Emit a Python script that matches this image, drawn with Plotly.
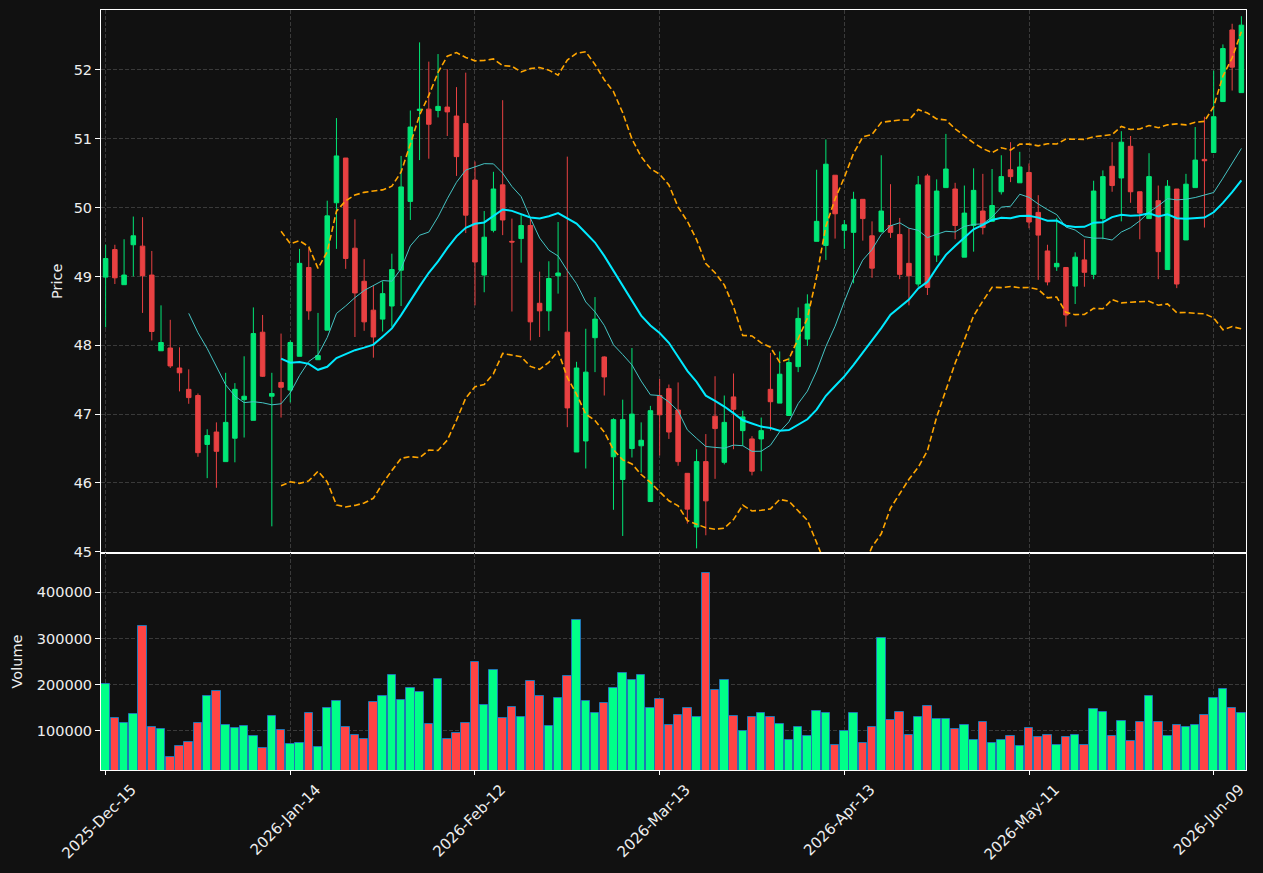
import pandas as pd
import numpy as np
import plotly.graph_objects as go

# ---------------- data ----------------
opens = [48.99, 49.39, 48.88, 49.46, 49.44, 49.02, 47.92, 47.96, 47.67, 47.36,
         47.27, 46.56, 46.74, 46.31, 46.65, 47.21, 46.91, 48.19, 47.26, 47.46,
         47.35, 47.84, 49.13, 47.79, 48.22, 50.07, 50.72, 49.41, 48.93, 48.51,
         48.38, 48.57, 49.09, 50.09, 51.41, 51.43, 51.41, 51.46, 51.33, 51.22,
         50.40, 49.02, 49.67, 50.33, 49.51, 49.55, 49.74, 48.61, 48.50, 49.01,
         48.19, 46.45, 46.61, 48.11, 47.83, 46.38, 46.05, 46.50, 46.54, 45.73,
         47.27, 47.37, 47.06, 46.14, 45.36, 46.31, 46.97, 46.30, 47.25, 46.76,
         46.64, 46.64, 47.36, 47.16, 46.98, 47.69, 48.09, 49.51, 49.45, 50.47,
         49.67, 49.64, 50.12, 49.59, 49.65, 49.74, 49.61, 49.19, 48.89, 50.46,
         49.31, 50.29, 50.27, 49.28, 49.74, 49.95, 49.80, 50.23, 50.55, 50.36,
         50.51, 49.93, 49.37, 49.14, 49.13, 48.86, 49.24, 49.03, 49.84, 50.60,
         50.43, 50.89, 50.23, 49.84, 50.10, 49.10, 50.27, 49.53, 50.29, 50.70,
         50.80, 51.54, 52.58, 51.67]
highs = [49.46, 49.46, 49.54, 49.87, 49.86, 49.37, 48.58, 48.37, 47.97, 47.65,
         47.30, 46.78, 46.88, 47.60, 47.45, 47.84, 48.55, 48.44, 47.60, 48.17,
         48.07, 49.40, 49.41, 48.47, 50.10, 51.30, 50.72, 49.83, 49.25, 48.86,
         48.93, 49.33, 50.75, 51.41, 52.40, 52.12, 52.23, 52.01, 51.75, 51.96,
         50.67, 49.95, 50.52, 51.56, 49.84, 49.89, 49.84, 49.07, 49.22, 49.79,
         50.74, 47.76, 48.24, 48.70, 47.84, 46.94, 47.21, 47.96, 46.88, 47.12,
         47.51, 47.43, 47.46, 46.14, 46.49, 46.71, 47.55, 47.27, 47.59, 47.05,
         46.68, 46.95, 47.89, 47.91, 47.82, 48.55, 48.74, 50.55, 50.99, 50.47,
         49.82, 50.23, 50.12, 49.80, 50.76, 50.34, 49.85, 49.70, 50.46, 50.49,
         50.41, 51.07, 50.36, 50.32, 50.57, 50.49, 50.56, 50.76, 50.95, 50.81,
         50.64, 50.18, 49.46, 49.85, 49.13, 49.35, 49.54, 50.39, 50.54, 50.95,
         51.11, 51.04, 50.23, 50.79, 50.32, 50.40, 50.27, 50.49, 51.17, 51.32,
         51.99, 52.37, 52.67, 52.78]
lows = [48.26, 48.89, 48.88, 49.00, 48.47, 48.07, 47.92, 47.67, 47.33, 47.15,
        46.38, 46.07, 45.93, 46.31, 46.30, 46.66, 46.91, 47.54, 45.37, 46.95,
        47.17, 47.84, 48.37, 47.79, 48.22, 49.40, 49.11, 48.12, 48.21, 47.82,
        48.20, 48.27, 48.57, 49.82, 50.69, 50.71, 51.31, 51.04, 50.46, 49.63,
        48.58, 48.77, 49.64, 49.60, 48.49, 49.20, 48.07, 48.12, 48.21, 48.75,
        46.81, 46.45, 46.21, 47.61, 47.27, 45.61, 45.23, 46.37, 46.15, 45.73,
        46.40, 46.64, 46.25, 45.41, 45.05, 45.24, 46.06, 46.27, 46.49, 46.54,
        46.11, 46.17, 46.76, 47.16, 46.98, 47.61, 47.99, 49.51, 49.24, 49.55,
        49.40, 48.90, 49.52, 48.98, 49.64, 49.56, 48.96, 48.58, 48.85, 48.73,
        49.21, 50.29, 49.54, 49.28, 49.36, 49.61, 49.80, 50.19, 50.37, 50.36,
        49.70, 48.95, 48.87, 49.08, 48.27, 48.60, 48.85, 48.96, 49.54, 50.23,
        49.80, 50.07, 49.54, 49.84, 48.96, 49.10, 48.83, 49.53, 50.29, 49.71,
        50.80, 51.54, 51.70, 51.67]
closes = [49.26, 48.98, 49.02, 49.59, 49.01, 48.20, 48.04, 47.70, 47.60, 47.24,
          46.44, 46.69, 46.46, 46.88, 47.36, 47.26, 48.17, 47.55, 47.30, 47.39,
          48.04, 49.19, 48.50, 47.85, 49.88, 50.75, 49.26, 48.76, 48.34, 48.12,
          48.75, 49.10, 50.30, 51.17, 51.43, 51.21, 51.47, 51.39, 50.74, 49.89,
          49.21, 49.57, 50.27, 49.82, 49.50, 49.74, 48.34, 48.50, 48.97, 49.05,
          47.09, 47.67, 47.61, 48.38, 47.54, 46.92, 46.92, 47.00, 46.62, 47.05,
          46.99, 46.74, 46.31, 45.62, 46.31, 45.74, 46.79, 46.88, 47.07, 46.96,
          46.17, 46.76, 47.18, 47.58, 47.75, 48.39, 48.60, 49.80, 50.63, 49.91,
          49.75, 50.12, 49.84, 49.12, 49.95, 49.64, 49.03, 49.01, 50.33, 48.84,
          50.24, 50.56, 49.74, 49.92, 50.25, 49.71, 50.03, 50.45, 50.45, 50.59,
          49.79, 49.60, 48.92, 49.19, 48.44, 49.28, 49.06, 50.24, 50.45, 50.32,
          50.95, 50.23, 49.92, 50.45, 49.36, 50.31, 48.89, 50.34, 50.69, 50.68,
          51.32, 52.31, 52.04, 52.65]
volumes = [202000, 128000, 117000, 137000, 328000, 109000, 104000, 43500, 67400, 76100,
           116000, 176000, 185000, 113000, 106500, 111000, 89100, 63000, 132600, 102200,
           71700, 73900, 139100, 65200, 150000, 165200, 108700, 91300, 82600, 163000,
           176100, 221700, 167400, 193500, 184800, 115200, 213000, 82600, 95700, 117400,
           250000, 156500, 232600, 128300, 152200, 130400, 208700, 176100, 110900, 171700,
           219600, 339100, 165200, 139100, 160900, 193500, 226100, 210900, 221700, 150000,
           169600, 113000, 134800, 150000, 130400, 441300, 189100, 210900, 132600, 100000,
           130400, 139100, 130400, 115200, 80400, 108700, 89100, 143500, 139100, 69600,
           100000, 139100, 73900, 108700, 300000, 123900, 141300, 91300, 130400, 154300,
           126100, 126100, 104300, 113000, 80400, 119600, 73900, 80400, 89100, 67400,
           106500, 87000, 91300, 69600, 87000, 91300, 69600, 147800, 141300, 89100,
           121700, 78300, 119600, 176100, 119600, 89100, 113000, 108700, 113000, 134800,
           171700, 191300, 150000, 139100]

market_holidays = ["2025-12-25", "2026-01-01", "2026-01-19", "2026-02-16",
                   "2026-04-03", "2026-05-25"]
start_date = "2025-12-15"
tick_every = 20

# ---------------- derived ----------------
N = len(closes)
dates = pd.bdate_range(start_date, periods=N, freq="C", holidays=market_holidays)
xs = list(range(N))
tick_idx = list(range(0, N, tick_every))
tick_txt = [dates[i].strftime("%Y-%b-%d") for i in tick_idx]

close_s = pd.Series(closes)
ma10 = close_s.rolling(10).mean()
ma20 = close_s.rolling(20).mean()
sd20 = close_s.rolling(20).std(ddof=0)
bb_up = ma20 + 2 * sd20
bb_lo = ma20 - 2 * sd20

UP_C, DN_C = "#00e676", "#e84142"
VUP_C, VDN_C = "#00ff88", "#ff4444"
vol_colors = [VUP_C if c >= o else VDN_C for o, c in zip(opens, closes)]

fig = go.Figure()
fig.add_trace(go.Candlestick(
    x=xs, open=opens, high=highs, low=lows, close=closes,
    increasing=dict(line=dict(color=UP_C, width=1), fillcolor=UP_C),
    decreasing=dict(line=dict(color=DN_C, width=1), fillcolor=DN_C),
    whiskerwidth=0, xaxis="x", yaxis="y", showlegend=False, name="OHLC"))
fig.add_trace(go.Scatter(x=xs, y=ma10, mode="lines",
                         line=dict(color="#45c4c4", width=1),
                         xaxis="x", yaxis="y", showlegend=False, name="MA10"))
fig.add_trace(go.Scatter(x=xs, y=ma20, mode="lines",
                         line=dict(color="#00eaff", width=2),
                         xaxis="x", yaxis="y", showlegend=False, name="MA20"))
for band in (bb_up, bb_lo):
    fig.add_trace(go.Scatter(x=xs, y=band, mode="lines",
                             line=dict(color="#ffa500", width=1.6, dash="6px,3px"),
                             xaxis="x", yaxis="y", showlegend=False))
fig.add_trace(go.Bar(x=xs, y=volumes, marker=dict(color=vol_colors,
                     line=dict(color="#1f77b4", width=1)),
                     width=0.92, xaxis="x2", yaxis="y2", showlegend=False,
                     name="Volume"))

BG = "#111111"
FG = "#eeeeee"
GRID = "#3a3a3a"
common_ax = dict(showline=True, mirror=True, linecolor="#ffffff", linewidth=1,
                 showgrid=True, gridcolor=GRID, griddash="4px,2px", gridwidth=1,
                 zeroline=False, automargin=False)

H_TOTAL = 760.0
fig.update_layout(
    width=1263, height=873,
    margin=dict(l=101, r=17, t=10, b=103),
    paper_bgcolor=BG, plot_bgcolor=BG,
    font=dict(family="DejaVu Sans", size=14.5, color=FG),
    showlegend=False, bargap=0,
    xaxis=dict(domain=[0, 1], anchor="y", range=[-0.5, N - 0.5], matches="x2",
               tickvals=tick_idx, showticklabels=False, ticks="",
               rangeslider=dict(visible=False), **common_ax),
    yaxis=dict(domain=[(770 - 552.5) / H_TOTAL, 1], anchor="x",
               range=[44.99, 52.87], tickvals=list(range(45, 53)),
               ticks="outside", ticklen=5, tickcolor="#ffffff",
               title=dict(text="Price", standoff=7, font=dict(size=14.5)),
               **common_ax),
    xaxis2=dict(domain=[0, 1], anchor="y2", range=[-0.5, N - 0.5],
                tickvals=tick_idx, ticktext=tick_txt, tickangle=-45,
                ticks="outside", ticklen=4, tickcolor="#ffffff",
                tickfont=dict(size=15), ticklabelshift=26, **common_ax),
    yaxis2=dict(domain=[0, (770 - 553) / H_TOTAL], anchor="x2",
                range=[14800, 485200], tickvals=[100000, 200000, 300000, 400000],
                tickformat="d", ticks="outside", ticklen=5, tickcolor="#ffffff",
                title=dict(text="Volume", standoff=10, font=dict(size=14.5)),
                **common_ax),
)

fig.write_html("out.html")
